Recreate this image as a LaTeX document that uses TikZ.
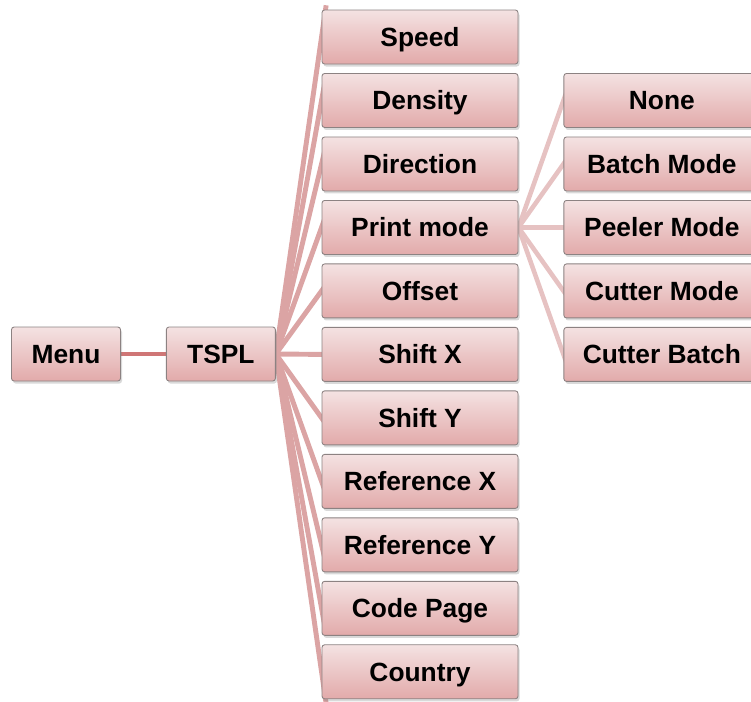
\documentclass[tikz,border=0pt]{standalone}
\usepackage{fontspec}
\setmainfont{Liberation Sans}
\usetikzlibrary{positioning, calc, shadows, backgrounds}

\definecolor{boxtop}{HTML}{F4E2E2}
\definecolor{boxbot}{HTML}{E2AAAA}
\definecolor{boxline}{HTML}{8C8282}
\definecolor{rootlink}{HTML}{CF7676}
\definecolor{mainlink}{HTML}{DBA4A4}
\definecolor{sublink}{HTML}{E6C2C2}

\begin{document}
\begin{tikzpicture}[
        box/.style={
            draw=boxline, % 灰色边框
            line width=0.5pt,
            rounded corners=1.5pt,
            top color=boxtop, bottom color=boxbot, % 渐变填充
            minimum width=3.92cm, % 方框宽度
            minimum height=1.08cm, % 方框高度
            inner sep=0,
            text height=10.8pt, text depth=0pt, % 文字按大写字母居中
            font=\fontsize{15}{17}\selectfont\bfseries,
            drop shadow={shadow xshift=0.03cm, shadow yshift=-0.05cm, opacity=0.3}
        },
        smallbox/.style={box, minimum width=2.18cm},
        rootline/.style={draw=rootlink, line width=2.3pt},
        mainline/.style={draw=mainlink, line width=2.8pt},
        subline/.style={draw=sublink, line width=2.6pt}
    ]

    \useasboundingbox (0,0) rectangle (15.02,-14.02);

    % 根节点与 TSPL
    \node[smallbox] (menu) at (1.32,-7.08) {Menu};
    \node[smallbox, right=0.9cm of menu] (tspl) {TSPL};

    % 第二层节点
    \node[box] (s1) at (8.4,-0.74) {Speed};
    \foreach \t [count=\i from 2] in {Density, Direction, Print mode, Offset, Shift X,
            Shift Y, Reference X, Reference Y, Code Page, Country} {
        \pgfmathtruncatemacro\j{\i-1}
        \node[box, below=0.172cm of s\j] (s\i) {\t};
    }

    % 第三层节点 (Print mode 的子节点)
    \node[box, right=0.9cm of s2] (p1) {None};
    \foreach \t [count=\i from 2] in {Batch Mode, Peeler Mode, Cutter Mode, Cutter Batch} {
        \pgfmathtruncatemacro\j{\i-1}
        \node[box, below=0.172cm of p\j] (p\i) {\t};
    }

    % 连线画在背景层
    \begin{pgfonlayer}{background}
        \draw[rootline] (menu.east) -- (tspl.west);
        \foreach \i in {1, ..., 11} {
            \draw[mainline] (tspl.east) -- ($(s\i.west)!-0.1!(tspl.east)$);
        }
        \foreach \i in {1, ..., 5} {
            \draw[subline] (s4.east) -- ($(p\i.west)!-0.1!(s4.east)$);
        }
    \end{pgfonlayer}
\end{tikzpicture}
\end{document}
